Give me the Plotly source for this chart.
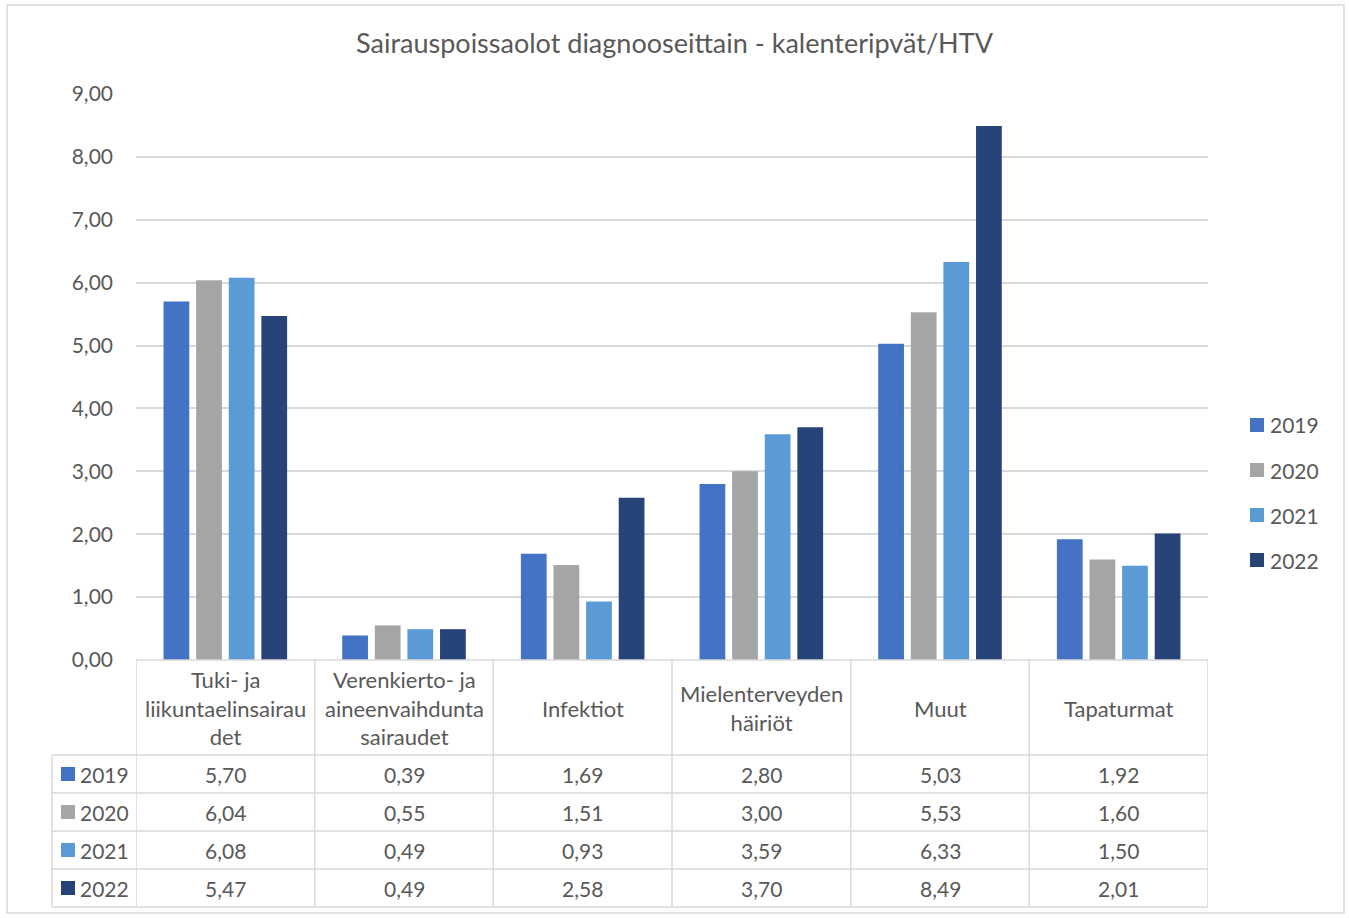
import plotly.graph_objects as go

categories = ["Tuki- ja<br>liikuntaelinsairau<br>det",
              "Verenkierto- ja<br>aineenvaihdunta<br>sairaudet",
              "Infektiot",
              "Mielenterveyden<br>häiriöt",
              "Muut",
              "Tapaturmat"]
years = ["2019", "2020", "2021", "2022"]
v2019 = [5.70, 0.39, 1.69, 2.80, 5.03, 1.92]
v2020 = [6.04, 0.55, 1.51, 3.00, 5.53, 1.60]
v2021 = [6.08, 0.49, 0.93, 3.59, 6.33, 1.50]
v2022 = [5.47, 0.49, 2.58, 3.70, 8.49, 2.01]
series = [v2019, v2020, v2021, v2022]
colors = ["#4472C4", "#A5A5A5", "#5B9BD5", "#264478"]
title = "Sairauspoissaolot diagnooseittain - kalenteripvät/HTV"

FONT = "Lato"
TXT = "#595959"
GRID = "#d9d9d9"
W, H = 1349, 918
L, R, T, B = 136, 141, 94, 258
pw, ph = W - L - R, H - T - B

def py(Y):
    return (H - B - Y) / ph

def px(X):
    return (X - L) / pw

xs = list(range(len(categories)))
fig = go.Figure()
for yr, vals, col in zip(years, series, colors):
    fig.add_trace(go.Bar(x=xs, y=vals, name=yr, marker_color=col,
                         marker_line_width=0, showlegend=False))

shapes = []
annotations = []
row_tops = [755, 793, 831, 869]
row_h = 38
# table grid
shapes.append(dict(type="line", xref="paper", yref="paper", x0=0, x1=1, y0=py(660), y1=py(660),
                   line=dict(color=GRID, width=1.5)))
for k in range(len(years) + 1):
    Y = 755 + k * row_h
    shapes.append(dict(type="line", xref="paper", yref="paper", x0=px(52), x1=1, y0=py(Y), y1=py(Y),
                       line=dict(color=GRID, width=1.5)))
shapes.append(dict(type="line", xref="paper", yref="paper", x0=px(52), x1=px(52), y0=py(755), y1=py(907),
                   line=dict(color=GRID, width=1.5)))
for i in range(len(categories) + 1):
    shapes.append(dict(type="line", xref="x", yref="paper", x0=i - 0.5, x1=i - 0.5, y0=py(660), y1=py(907),
                       line=dict(color=GRID, width=1.5)))
# header
for i, c in enumerate(categories):
    annotations.append(dict(x=i, y=py(708), xref="x", yref="paper", text=c, showarrow=False,
                            xanchor="center", yanchor="middle",
                            font=dict(family=FONT, size=22, color=TXT)))
# rows
for k, (yr, vals, col) in enumerate(zip(years, series, colors)):
    yc = row_tops[k] + row_h / 2
    shapes.append(dict(type="rect", xref="paper", yref="paper", x0=px(61), x1=px(75),
                       y0=py(yc + 7), y1=py(yc - 7), fillcolor=col, line=dict(width=0)))
    annotations.append(dict(x=px(131), y=py(yc), xref="paper", yref="paper", text=yr, showarrow=False,
                            xanchor="right", yanchor="middle",
                            font=dict(family=FONT, size=21, color=TXT)))
    for i, v in enumerate(vals):
        annotations.append(dict(x=i, y=py(yc), xref="x", yref="paper",
                                text=f"{v:.2f}".replace(".", ","), showarrow=False,
                                xanchor="center", yanchor="middle",
                                font=dict(family=FONT, size=21, color=TXT)))
# legend (custom)
for k, (yr, col) in enumerate(zip(years, colors)):
    yc = 425 + 45 * k
    shapes.append(dict(type="rect", xref="paper", yref="paper", x0=px(1250), x1=px(1264),
                       y0=py(yc + 7), y1=py(yc - 7), fillcolor=col, line=dict(width=0)))
    annotations.append(dict(x=px(1268), y=py(yc), xref="paper", yref="paper", text=yr, showarrow=False,
                            xanchor="left", yanchor="middle",
                            font=dict(family=FONT, size=21, color=TXT)))
# outer border
shapes.append(dict(type="rect", xref="paper", yref="paper", x0=px(7), x1=px(1344), y0=py(913), y1=py(5),
                   line=dict(color=GRID, width=1.5)))

fig.update_layout(
    width=W, height=H,
    margin=dict(l=L, r=R, t=T, b=B),
    paper_bgcolor="white", plot_bgcolor="white",
    separators=", ",
    showlegend=False,
    title=dict(text=title, x=0.5, xref="container", xanchor="center", y=1 - 44 / H, yanchor="middle",
               font=dict(family=FONT, size=27, color=TXT)),
    barmode="group", bargap=0.27, bargroupgap=0.21,
    xaxis=dict(range=[-0.5, len(categories) - 0.5], showticklabels=False, showgrid=False,
               zeroline=False, showline=False, ticks=""),
    yaxis=dict(range=[0, 9], dtick=1, tickformat=".2f", showgrid=True, gridcolor=GRID, gridwidth=1.5,
               zeroline=False, showline=False, ticks="", ticklabelstandoff=22,
               tickfont=dict(family=FONT, size=21, color=TXT)),
    shapes=shapes, annotations=annotations,
)
fig.write_html("out.html", config={"displayModeBar": False},
               post_script="document.body.style.margin='0';")
